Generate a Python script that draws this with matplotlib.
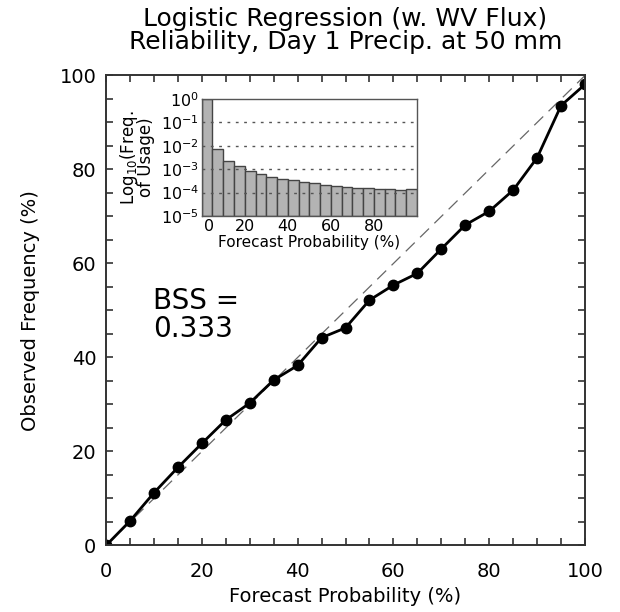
import numpy as np
import matplotlib
matplotlib.use("Agg")
import matplotlib.pyplot as plt
import matplotlib.transforms as mtransforms
from matplotlib.ticker import MultipleLocator, FixedLocator, NullLocator

# ---- data ----
forecast_prob = [0, 5, 10, 15, 20, 25, 30, 35, 40, 45, 50, 55, 60, 65, 70, 75, 80, 85, 90, 95, 100]
observed_freq = [0, 5.2, 11.2, 16.6, 21.7, 26.7, 30.3, 35.2, 38.3, 44.2, 46.3, 52.2, 55.4, 57.9,
                 63.1, 68.2, 71.1, 75.6, 82.5, 93.6, 98.1]
bin_left = [0, 5, 10, 15, 20, 25, 30, 35, 40, 45, 50, 55, 60, 65, 70, 75, 80, 85, 90, 95]
usage_freq = [0.98, 7.0e-3, 2.3e-3, 1.3e-3, 8.1e-4, 6.0e-4, 4.6e-4, 3.7e-4, 3.2e-4, 2.7e-4,
              2.4e-4, 2.0e-4, 1.8e-4, 1.6e-4, 1.5e-4, 1.4e-4, 1.3e-4, 1.3e-4, 1.25e-4, 1.35e-4]
main_ticks = [0, 20, 40, 60, 80, 100]
inset_xticks = [0, 20, 40, 60, 80]
inset_yticks = [1e-5, 1e-4, 1e-3, 1e-2, 1e-1, 1e0]
title_text = "Logistic Regression (w. WV Flux)\nReliability, Day 1 Precip. at 50 mm"
bss_text = "BSS =\n0.333"

plt.rcParams['font.family'] = ['DejaVu Sans']
fig = plt.figure(figsize=(6.2, 6.12), dpi=100)

ax = fig.add_axes([0.171, 0.1087, 0.7726, 0.7680])
ax.plot([0, 100], [0, 100], color='#666666', lw=0.9, ls=(0, (10, 6)))
ax.plot(forecast_prob, observed_freq, color='black', lw=2, marker='o', ms=7.5, mfc='black', mec='black')
ax.set_xlim(0, 100)
ax.set_ylim(0, 100)
ax.xaxis.set_major_locator(FixedLocator(main_ticks))
ax.yaxis.set_major_locator(FixedLocator(main_ticks))
ax.xaxis.set_minor_locator(MultipleLocator(5))
ax.yaxis.set_minor_locator(MultipleLocator(5))
ax.tick_params(which='both', direction='in', top=True, right=True, length=5, width=1.2, color='#333333')
ax.tick_params(axis='x', which='major', labelsize=14, pad=12)
ax.tick_params(axis='y', which='major', labelsize=14, pad=7)
for s in ax.spines.values():
    s.set_linewidth(1.4)
    s.set_color('#333333')
ax.set_xlabel("Forecast Probability (%)", fontsize=14, labelpad=4)
ax.set_ylabel("Observed Frequency (%)", fontsize=14, labelpad=14)
fig.text(0.557, 0.988, title_text, ha='center', va='top', fontsize=18, linespacing=0.95)
ax.text(0.098, 0.49, bss_text, transform=ax.transAxes, ha='left', va='center', fontsize=20, linespacing=1.0)

# ---- inset ----
ins = fig.add_axes([0.3253, 0.6471, 0.3473, 0.1912])
ins.bar(bin_left, usage_freq, width=5, align='edge', bottom=1e-5, color='#b3b3b3',
        edgecolor='#444444', linewidth=1.0, zorder=2)
ins.set_yscale('log')
ins.set_xlim(0, 100)
ins.set_ylim(1e-5, 1e0)
ins.xaxis.set_major_locator(FixedLocator(inset_xticks))
ins.yaxis.set_major_locator(FixedLocator(inset_yticks))
ins.yaxis.set_minor_locator(NullLocator())
ins.xaxis.set_minor_locator(NullLocator())
ins.tick_params(which='both', length=0, labelsize=11.5, pad=2)
for yv in inset_yticks[1:-1]:
    ins.axhline(yv, color='#555555', lw=1.0, ls=(0, (2, 4)), zorder=3)
for s in ins.spines.values():
    s.set_linewidth(1.0)
    s.set_color('#555555')
ins.set_xlabel("Forecast Probability (%)", fontsize=11, labelpad=1)
ins.set_ylabel("Log$_{10}$(Freq.\nof Usage)", fontsize=12, labelpad=4, linespacing=0.75)
fig.canvas.draw()
shift = mtransforms.ScaledTranslation(5 / 72, 0, fig.dpi_scale_trans)
first = ins.get_xticklabels()[0]
first.set_transform(first.get_transform() + shift)

fig.savefig("out.png", dpi=100)
